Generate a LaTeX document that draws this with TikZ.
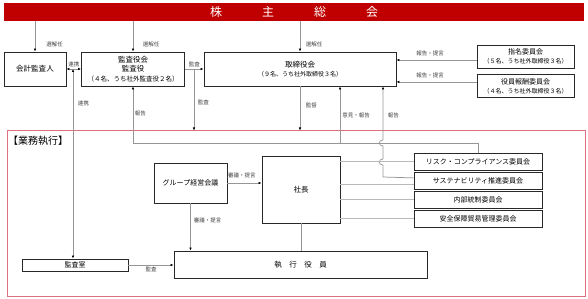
\documentclass[tikz,border=0pt]{standalone}
\usepackage{fontspec}
\setmainfont{Noto Sans CJK JP}
\usepackage{xcolor}
\usetikzlibrary{arrows.meta,positioning,calc}
\definecolor{bannerred}{RGB}{192,0,0}
\definecolor{framered}{RGB}{222,112,128}
\definecolor{linegray}{RGB}{150,150,150}
\definecolor{boxline}{RGB}{40,40,40}
\tikzset{
  banner/.style={fill=bannerred, draw=none, text=white, minimum width=580pt, minimum height=18pt, inner sep=0pt, font=\fontsize{12}{12}\selectfont},
  orgbox/.style={draw=boxline, line width=0.9pt, fill=white, align=center, inner sep=0pt, font=\fontsize{7.5}{9.5}\selectfont},
  cmte/.style={orgbox, minimum width=128pt, minimum height=16.5pt, font=\fontsize{7}{8}\selectfont},
  execframe/.style={draw=framered, line width=1pt, minimum width=578pt, minimum height=165pt, inner sep=0pt},
  lbl/.style={font=\fontsize{5.5}{6}\selectfont, text=black!75, inner sep=0pt},
  arrow/.style={draw=linegray, line width=0.75pt, -{Latex[length=3pt,width=2.6pt,color=black]}},
  dblarrow/.style={draw=linegray, line width=0.75pt, {Latex[length=3pt,width=2.6pt,color=black]}-{Latex[length=3pt,width=2.6pt,color=black]}},
  tieline/.style={draw=linegray, line width=0.75pt},
  plainline/.style={draw=gray!55, line width=1pt}
}
\begin{document}
\begin{tikzpicture}[x=1pt, y=-1pt, node distance=1.5pt]
  \useasboundingbox (0,0) rectangle (588,299);
  \node[execframe] (gyomu) at (296,213.5) {};
  \node[anchor=west, inner sep=0pt, font=\fontsize{10}{10}\selectfont] (gyomulbl) at (8,141) {【業務執行】};

  \node[banner] (gm) at (294,12) {株\hspace{40pt}主\hspace{40pt}総\hspace{40pt}会};
  \node[orgbox, minimum width=62pt, minimum height=34pt] (kaikei) at (35,69) {会計監査人};
  \node[orgbox, minimum width=103pt, minimum height=34pt] (kansa) at (133,69) {監査役会\\監査役\\{\fontsize{6.5}{8}\selectfont （４名、うち社外監査役２名）}};
  \node[orgbox, minimum width=192pt, minimum height=34pt] (tori) at (300,69) {取締役会\\{\fontsize{6}{8}\selectfont （９名、うち社外取締役３名）}};
  \node[orgbox, minimum width=97pt, minimum height=23pt, font=\fontsize{7}{9}\selectfont] (shimei) at (525.5,56.5) {指名委員会\\{\fontsize{6}{7.5}\selectfont （５名、うち社外取締役３名）}};
  \node[orgbox, minimum width=97pt, minimum height=23pt, font=\fontsize{7}{9}\selectfont, below=6pt of shimei] (hoshu) {役員報酬委員会\\{\fontsize{6}{7.5}\selectfont （４名、うち社外取締役３名）}};

  \node[orgbox, minimum width=73pt, minimum height=40pt, font=\fontsize{7}{9}\selectfont] (grp) at (190.5,183) {グループ経営会議};
  \node[orgbox, minimum width=78pt, minimum height=67pt] (shacho) at (301,189.5) {社長};
  \node[cmte] (rsk) at (478,162) {リスク・コンプライアンス委員会};
  \node[cmte, below=of rsk] (sus) {サステナビリティ推進委員会};
  \node[cmte, below=of sus] (naibu) {内部統制委員会};
  \node[cmte, below=of naibu] (anpo) {安全保障貿易管理委員会};
  \node[orgbox, minimum width=106pt, minimum height=12pt, font=\fontsize{7}{8}\selectfont] (kshitsu) at (75,265) {監査室};
  \node[orgbox, minimum width=253pt, minimum height=27pt] (shikko) at (300.5,264.5) {執\hspace{7.5pt}行\hspace{7.5pt}役\hspace{7.5pt}員};

  % elected at the general meeting
  \draw[arrow] (kaikei.north |- gm.south) -- node[lbl, pos=.77, right=11pt]{選解任} (kaikei.north);
  \draw[arrow] (kansa.north |- gm.south) -- node[lbl, pos=.77, right=9.5pt]{選解任} (kansa.north);
  \draw[arrow] (tori.north |- gm.south) -- node[lbl, pos=.77, right=5.5pt]{選解任} (tori.north);

  % cooperation
  \coordinate (rkTap) at (73,69);
  \draw[dblarrow] (kaikei.east) -- node[lbl, above=1.5pt]{連携} (kansa.west);
  \draw[dblarrow] (rkTap) -- node[lbl, pos=.18, right=4.5pt]{連携} (rkTap |- kshitsu.north);

  % audit and supervision
  \coordinate (kansaTap) at (194,69);
  \draw[arrow] (kansa.east) -- node[lbl, above=1.5pt]{監査} (tori.west);
  \draw[arrow] (kansaTap) -- node[lbl, pos=.55, right=3.5pt]{監査} (kansaTap |- gyomu.north);
  \draw[arrow] (tori.south) -- node[lbl, pos=.42, right=5.5pt]{監督} (tori.south |- gyomu.north);

  % committees of the board
  \coordinate (shimeiOut) at ([yshift=-3.5pt]shimei.west);
  \coordinate (hoshuOut) at ([yshift=4.5pt]hoshu.west);
  \draw[arrow] (shimeiOut) -- node[lbl, pos=.58, above=4pt]{報告・提言} (shimeiOut -| tori.east);
  \draw[arrow] (hoshuOut) -- node[lbl, pos=.58, above=3.5pt]{報告・提言} (hoshuOut -| tori.east);

  % reports upward
  \coordinate (rptCorner) at (133,143);
  \coordinate (ikenTap) at (340,143);
  \draw[arrow] (rsk.north) |- (rptCorner) -- node[lbl, pos=.53, right=1.5pt]{報告} (kansa.south);
  \draw[arrow] (ikenTap) -- node[lbl, pos=.49, right=2pt]{意見・報告} (ikenTap |- tori.south);
  \coordinate (susOut) at ([yshift=3pt]sus.west);
  \coordinate (hopTop) at (383,140);
  \draw[arrow] (susOut) -- (383,177) -- (383,165) .. controls (378,165) and (378,159) .. (383,159)
    -- (383,146) .. controls (378,146) and (378,140) .. (hopTop)
    -- node[lbl, pos=.46, right=4.5pt]{報告} (hopTop |- tori.south);

  % president and committees
  \coordinate (susIn) at ([yshift=-4pt]sus.west);
  \draw[plainline] (shacho.east |- rsk.west) -- (rsk.west);
  \draw[plainline] (shacho.east |- susIn) -- (susIn);
  \draw[plainline] (shacho.east |- naibu.west) -- (naibu.west);
  \draw[plainline] (shacho.east |- anpo.west) -- (anpo.west);
  \draw[tieline] (shacho.south) -- (shacho.south |- shikko.north);

  \draw[arrow] (grp.east) -- node[lbl, pos=.42, above=5pt]{審議・提言} (grp.east -| shacho.west);
  \draw[arrow] (grp.south) -- node[lbl, pos=.35, right=3pt]{審議・提言} (grp.south |- shikko.north);
  \draw[arrow] (kshitsu.east) -- node[lbl, below=2pt]{監査} (kshitsu.east -| shikko.west);
\end{tikzpicture}
\end{document}
